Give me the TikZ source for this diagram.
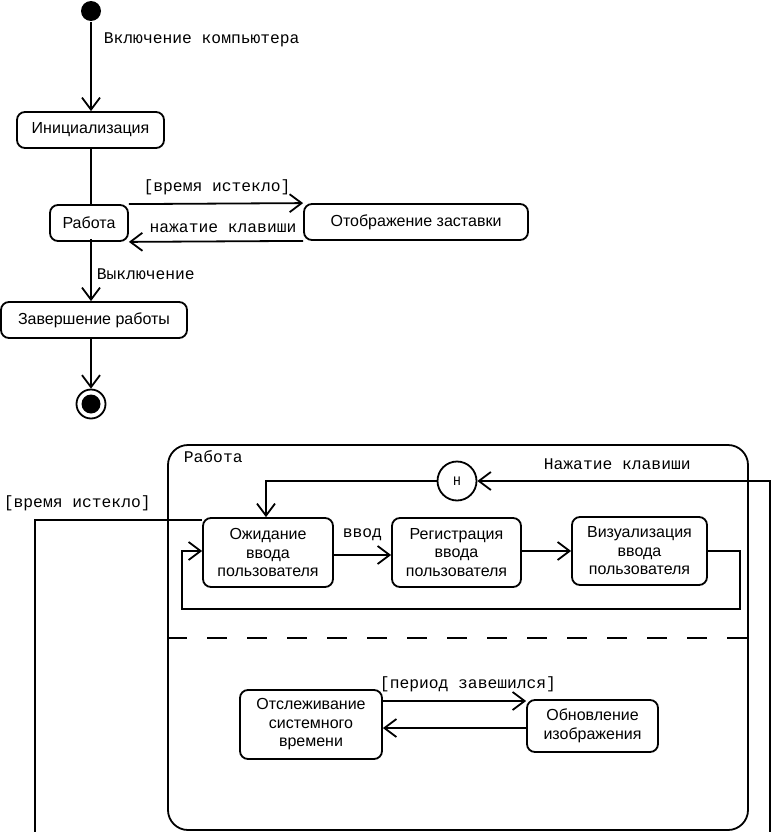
\documentclass[tikz,border=0pt]{standalone}
\usepackage{fontspec}
\setmainfont{Liberation Sans}
\newfontfamily\monof{Liberation Mono}
\usetikzlibrary{arrows.meta}
\begin{document}
\begin{tikzpicture}[x=1pt,y=-1pt, line width=1.8pt,
 state/.style={draw, rounded corners=8pt, inner sep=0pt, align=center,
   font=\fontsize{16}{18.5}\selectfont},
 lab/.style={font=\monof\fontsize{16.3}{17}\selectfont, inner sep=0pt},
 arr/.style={-{Straight Barb[length=12pt,width=18pt,line width=1.8pt]}},
]
\useasboundingbox (0,0) rectangle (772,832);

% ---------- top diagram ----------
\node (init) [circle, fill, minimum size=20pt, inner sep=0pt] at (91,11) {};
\node (ninit) [state, minimum width=147pt, minimum height=36pt] at (90.5,130) {Инициализация};
\node (nwork) [state, minimum width=78pt, minimum height=36pt] at (89,223) {Работа};
\node (nscreen) [state, minimum width=224pt, minimum height=36pt] at (416,222) {Отображение заставки};
\node (nend) [state, minimum width=186pt, minimum height=36pt] at (94,320) {Завершение работы};
\node (fin) [circle, draw, minimum size=29pt, inner sep=0pt] at (91,404) {};
\fill (fin.center) circle (9.5pt);

\draw[arr] (init) -- (ninit.north -| init);
\node (l1) [lab, anchor=west] at (103,40) {Включение компьютера};
\draw (ninit.south -| init) -- (nwork.north -| init);
\draw[arr] (nwork.north east) -- (nscreen.north west);
\node (l2) [lab] at (217,187) {[время истекло]};
\draw[arr] (nscreen.south west) -- (nwork.south east);
\node (l3) [lab] at (223,228) {нажатие клавиши};
\draw[arr] ([yshift=3pt]nwork.south -| init) -- (nend.north -| init);
\node (l4) [lab, anchor=west] at (96,274) {Выключение};
\draw[arr] (nend.south -| init) -- (fin.north);

% ---------- bottom diagram ----------
\node (frame) [draw, rounded corners=20pt, minimum width=580pt, minimum height=385pt, inner sep=0pt] at (458,637.5) {};
\node (ftitle) [lab, anchor=west] at (183,457) {Работа};
\draw[dash pattern=on 20pt off 20pt] (frame.west |- 0,638) -- (frame.east |- 0,638);

\node (hist) [circle, draw, minimum size=39pt, inner sep=0pt, font=\monof\fontsize{13}{13}\selectfont] at (457,481) {H};
\node (l5) [lab, anchor=west] at (543,464) {Нажатие клавиши};

\node (nwait) [state, minimum width=130pt, minimum height=69pt] at (268,552.5) {Ожидание\\ввода\\пользователя};
\node (nreg) [state, minimum width=129pt, minimum height=69pt] at (456.5,552.5) {Регистрация\\ввода\\пользователя};
\node (nvis) [state, minimum width=135pt, minimum height=68pt] at (639.5,551) {Визуализация\\ввода\\пользователя};

\coordinate (kbin) at (770,832);
\draw[arr] (kbin) -- (770,481) -- (hist.east);
\draw[arr] (hist.west) -- (266,481) -- (266,481 |- nwait.north);

\coordinate (tout) at (35,832);
\draw (tout) -- (35,520) -- (nwait.north west |- 0,520);
\node (l6) [lab, anchor=west] at (3,503) {[время истекло]};

\draw[arr] (nwait.east |- 0,555) -- (nreg.west |- 0,555);
\node (l7) [lab, anchor=west] at (342,535) {ввод};
\draw[arr] (nreg.east |- 0,551) -- (nvis.west |- 0,551);
\draw[arr] (nvis.east) -- (740,551) -- (740,609) -- (182,609) -- (182,551) -- (nwait.west |- 0,551);

\node (ntrack) [state, minimum width=142pt, minimum height=69pt] at (311,724.5) {Отслеживание\\системного\\времени};
\node (nupd) [state, minimum width=131pt, minimum height=52pt] at (592.5,726) {Обновление\\изображения};
\draw[arr] (ntrack.east |- 0,701) -- (nupd.west |- 0,701);
\node (l8) [lab] at (468,684) {[период завешился]};
\draw[arr] (nupd.west |- 0,728) -- (ntrack.east |- 0,728);
\end{tikzpicture}
\end{document}
